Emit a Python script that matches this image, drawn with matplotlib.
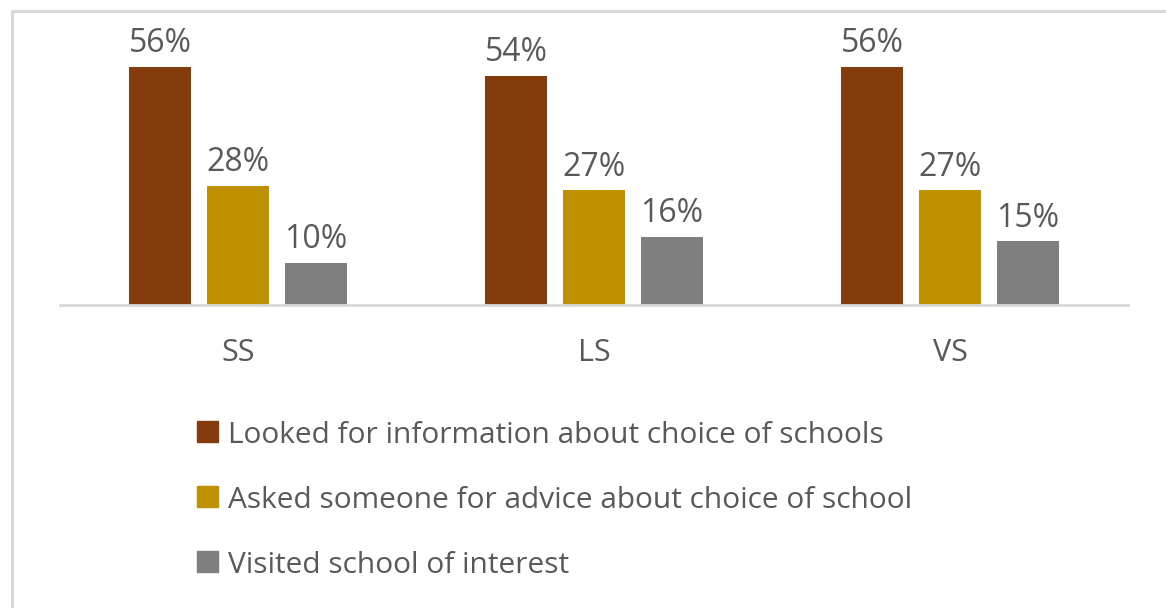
import numpy as np
import matplotlib
matplotlib.use("Agg")
import matplotlib.pyplot as plt
from matplotlib.patches import Rectangle

# data
groups = ["SS", "LS", "VS"]
series = [
    "Looked for information about choice of schools",
    "Asked someone for advice about choice of school",
    "Visited school of interest",
]
looked = [56, 54, 56]
asked = [28, 27, 27]
visited = [10, 16, 15]
colors = ["#843C0C", "#BF9000", "#7F7F7F"]

plt.rcParams["font.family"] = ["Open Sans", "DejaVu Sans"]
text_col = "#595959"

W, H = 1166, 608
fig = plt.figure(figsize=(W / 100, H / 100), dpi=100)

# light grey frame of the original chart box (top and left edges visible)
fig.patches.append(Rectangle((12 / W, -0.1), 1.2, 1 - 11 / H + 0.1,
                             transform=fig.transFigure, fill=False,
                             edgecolor="#D9D9D9", linewidth=2.2))

ax = fig.add_axes([60 / W, 1 - 305 / H, (1128 - 60) / W, (305 - 50) / H])
x = np.arange(len(groups))
width = 0.174
step = 0.219

for i, (vals, col) in enumerate(zip([looked, asked, visited], colors)):
    bars = ax.bar(x + (i - 1) * step, vals, width, color=col)
    for b, v in zip(bars, vals):
        ax.annotate(f"{v}%", (b.get_x() + b.get_width() / 2, v),
                    xytext=(0, 10.5), textcoords="offset points",
                    ha="center", va="baseline", fontsize=23, color=text_col)

ax.set_xlim(-0.5, 2.5)
ax.set_ylim(0, 60)
ax.set_yticks([])
for s in ["top", "right", "left"]:
    ax.spines[s].set_visible(False)
ax.spines["bottom"].set_color("#D9D9D9")
ax.spines["bottom"].set_linewidth(2)
ax.set_xticks(x)
ax.set_xticklabels(groups, fontsize=22, color=text_col)
ax.tick_params(axis="x", length=0, pad=24)

# legend, laid out by hand in pixel positions
for i, (name, col) in enumerate(zip(series, colors)):
    yc = 432 + i * 65
    fig.patches.append(Rectangle((197 / W, 1 - (yc + 10) / H), 21 / W, 21 / H,
                                 transform=fig.transFigure, color=col))
    fig.text(228 / W, 1 - yc / H, name, fontsize=21.5, color=text_col,
             ha="left", va="center_baseline")

fig.savefig("out.png", dpi=100)
